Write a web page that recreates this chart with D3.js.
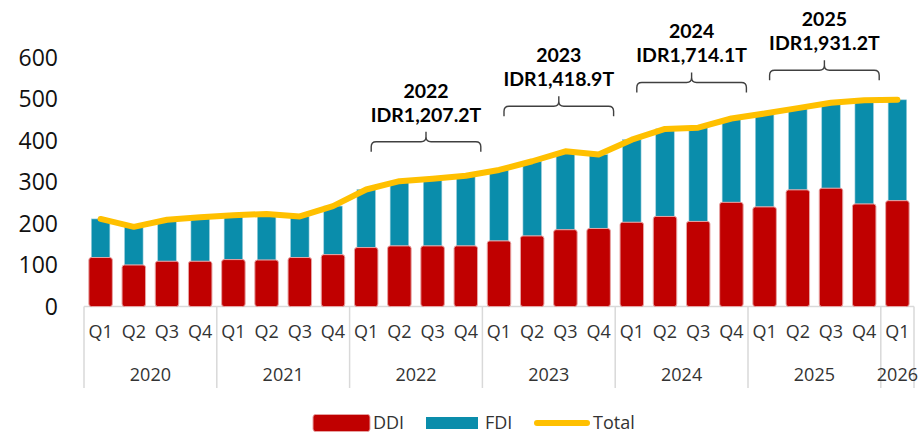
<!DOCTYPE html>
<html>
<head>
<meta charset="utf-8">
<script src="https://cdn.jsdelivr.net/npm/d3@7"></script>
<style>
    html, body { margin: 0; padding: 0; background: #fff; }
    svg text { font-family: "Open Sans", "Liberation Sans", sans-serif; fill: #333; }
    .ytick text { fill: #111; }
    .anno text { font-family: Lato, "Noto Sans", sans-serif; font-weight: 700; fill: #000; }
</style>
</head>
<body>
<div id="chart"></div>
<script>
// Chart data (IDR trillion)
const years = ['2020', '2021', '2022', '2023', '2024', '2025', '2026'];
const quarterLabels = ['Q1','Q2','Q3','Q4','Q1','Q2','Q3','Q4','Q1','Q2','Q3','Q4','Q1','Q2','Q3','Q4',
    'Q1','Q2','Q3','Q4','Q1','Q2','Q3','Q4','Q1'];
const quarterYears = ['2020','2020','2020','2020','2021','2021','2021','2021','2022','2022','2022','2022',
    '2023','2023','2023','2023','2024','2024','2024','2024','2025','2025','2025','2025','2026'];
const ddi = [118, 100, 109, 109, 113, 112, 118, 125, 142, 146, 146, 146, 158, 170, 185, 188,
    203, 217, 205, 251, 240, 281, 285, 247, 255];
const fdi = [93, 92, 100, 106, 107, 111, 99, 117, 140, 156, 162, 169, 171, 180, 189, 178,
    199, 211, 226, 202, 225, 197, 206, 250, 243];
const total = [211, 192, 209, 215, 220, 223, 217, 242, 282, 302, 308, 315, 329, 350, 374, 366,
    402, 428, 431, 453, 465, 478, 491, 497, 498];
const yTicks = [0, 100, 200, 300, 400, 500, 600];

// Yearly annotations
const annoYears = ['2022', '2023', '2024', '2025'];
const annoLabels = ['IDR1,207.2T', 'IDR1,418.9T', 'IDR1,714.1T', 'IDR1,931.2T'];
const annoLift = [24, 35, 26, 20];

const width = 924, height = 441;
const colors = { ddi: '#C00000', fdi: '#0A8DAB', total: '#FFC000', grid: '#D9D9D9' };

const svg = d3.select('#chart').append('svg')
    .attr('width', width)
    .attr('height', height);

const x = d3.scaleBand()
    .domain(d3.range(quarterLabels.length))
    .range([84, 914]);

const y = d3.scaleLinear()
    .domain([0, 600])
    .range([306.5, 57.5]);

const cx = i => x(i) + x.bandwidth() / 2;

drawYAxis();
drawXAxis();
drawBars();
drawTotalLine();
drawAnnotations();
drawLegend();

function drawYAxis() {
    svg.append('g')
        .attr('class', 'ytick')
        .selectAll('text')
        .data(yTicks)
        .enter()
        .append('text')
        .attr('x', 58)
        .attr('y', d => y(d))
        .attr('dy', '0.35em')
        .attr('text-anchor', 'end')
        .style('font-size', '23px')
        .text(d => d);
}

function drawXAxis() {
    const g = svg.append('g');

    // base line
    g.append('line')
        .attr('x1', x.range()[0]).attr('x2', x.range()[1])
        .attr('y1', y(0)).attr('y2', y(0))
        .attr('stroke', colors.grid).attr('stroke-width', 1.5);

    // year separators
    const bounds = [0];
    years.forEach(yr => {
        const last = quarterYears.lastIndexOf(yr);
        bounds.push(last + 1);
    });
    bounds.forEach(b => {
        const xp = b < quarterLabels.length ? x(b) : x.range()[1];
        g.append('line')
            .attr('x1', xp).attr('x2', xp)
            .attr('y1', y(0)).attr('y2', 388)
            .attr('stroke', colors.grid).attr('stroke-width', 1.5);
    });

    g.selectAll('.qlabel')
        .data(quarterLabels)
        .enter()
        .append('text')
        .attr('class', 'qlabel')
        .attr('x', (d, i) => cx(i))
        .attr('y', 332)
        .attr('dy', '0.35em')
        .attr('text-anchor', 'middle')
        .style('font-size', '18px')
        .text(d => d);

    g.selectAll('.ylabel')
        .data(years)
        .enter()
        .append('text')
        .attr('class', 'ylabel')
        .attr('x', yr => {
            const first = quarterYears.indexOf(yr);
            const last = quarterYears.lastIndexOf(yr);
            return (x(first) + x(last) + x.bandwidth()) / 2;
        })
        .attr('y', 375)
        .attr('dy', '0.35em')
        .attr('text-anchor', 'middle')
        .style('font-size', '18px')
        .text(d => d);
}

function drawBars() {
    // FDI stacked on DDI, drawn first so the DDI outline sits on top
    svg.append('g')
        .selectAll('rect')
        .data(fdi)
        .enter()
        .append('rect')
        .attr('x', (d, i) => cx(i) - 9.25)
        .attr('width', 18.5)
        .attr('y', (d, i) => y(ddi[i] + d))
        .attr('height', (d, i) => y(ddi[i]) - y(ddi[i] + d))
        .attr('fill', colors.fdi)
        .attr('stroke', '#9CCFDC')
        .attr('stroke-width', 0.6);

    svg.append('g')
        .selectAll('rect')
        .data(ddi)
        .enter()
        .append('rect')
        .attr('x', (d, i) => cx(i) - 11.75)
        .attr('width', 23.5)
        .attr('y', d => y(d))
        .attr('height', d => y(0) - y(d))
        .attr('rx', 2.5)
        .attr('fill', colors.ddi)
        .attr('stroke', '#E7A3A3')
        .attr('stroke-width', 1);
}

function drawTotalLine() {
    const line = d3.line()
        .x((d, i) => cx(i))
        .y(d => y(d));

    svg.append('path')
        .datum(total)
        .attr('d', line)
        .attr('fill', 'none')
        .attr('stroke', colors.total)
        .attr('stroke-width', 6)
        .attr('stroke-linejoin', 'round')
        .attr('stroke-linecap', 'round');
}

function drawAnnotations() {
    annoYears.forEach((yr, k) => {
        const first = quarterYears.indexOf(yr);
        const last = quarterYears.lastIndexOf(yr);
        const left = cx(first) + 5;
        const right = cx(last) + 15;
        const mid = (left + right) / 2;
        const peak = d3.max(total.slice(first, last + 1));
        const endY = y(peak) - annoLift[k];
        const barY = endY - 10;
        const tipY = barY - 10;
        const r = 5;

        const g = svg.append('g').attr('class', 'anno');

        const p = d3.path();
        p.moveTo(left, endY);
        p.lineTo(left, barY + r);
        p.quadraticCurveTo(left, barY, left + r, barY);
        p.lineTo(mid - r, barY);
        p.quadraticCurveTo(mid, barY, mid, barY - r);
        p.lineTo(mid, tipY);
        p.moveTo(mid, barY - r);
        p.quadraticCurveTo(mid, barY, mid + r, barY);
        p.lineTo(right - r, barY);
        p.quadraticCurveTo(right, barY, right, barY + r);
        p.lineTo(right, endY);

        g.append('path')
            .attr('d', p.toString())
            .attr('fill', 'none')
            .attr('stroke', '#404040')
            .attr('stroke-width', 1.4);

        g.append('text')
            .attr('x', mid)
            .attr('y', tipY - 17)
            .attr('dy', '0.35em')
            .attr('text-anchor', 'middle')
            .style('font-size', '19.5px')
            .text(annoLabels[k]);

        g.append('text')
            .attr('x', mid)
            .attr('y', tipY - 41)
            .attr('dy', '0.35em')
            .attr('text-anchor', 'middle')
            .style('font-size', '19.5px')
            .text(yr);
    });
}

function drawLegend() {
    const g = svg.append('g');
    const ly = 423;

    g.append('rect')
        .attr('x', 313).attr('y', ly - 8.5)
        .attr('width', 57).attr('height', 17)
        .attr('rx', 2.5)
        .attr('fill', colors.ddi)
        .attr('stroke', '#E7A3A3');
    g.append('text')
        .attr('x', 373).attr('y', ly).attr('dy', '0.35em')
        .style('font-size', '18px')
        .text('DDI');

    g.append('rect')
        .attr('x', 426).attr('y', ly - 6)
        .attr('width', 52).attr('height', 12)
        .attr('fill', colors.fdi);
    g.append('text')
        .attr('x', 485).attr('y', ly).attr('dy', '0.35em')
        .style('font-size', '18px')
        .text('FDI');

    g.append('line')
        .attr('x1', 537).attr('x2', 587)
        .attr('y1', ly).attr('y2', ly)
        .attr('stroke', colors.total)
        .attr('stroke-width', 6)
        .attr('stroke-linecap', 'round');
    g.append('text')
        .attr('x', 593).attr('y', ly).attr('dy', '0.35em')
        .style('font-size', '18px')
        .text('Total');
}
</script>
</body>
</html>
